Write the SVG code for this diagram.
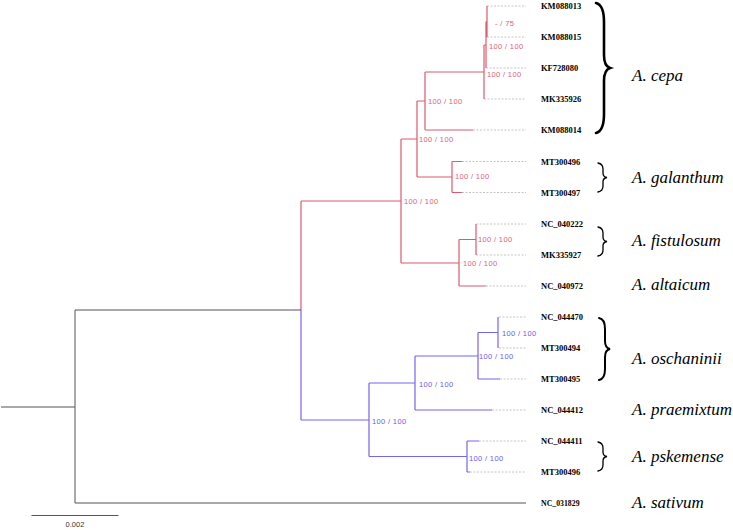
<svg xmlns="http://www.w3.org/2000/svg" width="733" height="530" viewBox="0 0 733 530">
<style>
.r{stroke:#dc5a6e;stroke-width:1.2;fill:none}
.b{stroke:#7566ee;stroke-width:1.2;fill:none}
.k{stroke:#555;stroke-width:1;fill:none}
.d{stroke:#b5b5b5;stroke-width:0.8;stroke-dasharray:2 1.5;fill:none}
.tip{font-family:"Liberation Serif",serif;font-weight:bold;font-size:8.5px;fill:#000}
.sp{font-family:"Liberation Serif",serif;font-style:italic;font-size:17px;fill:#000}
.sr{font-family:"Liberation Sans",Arial,sans-serif;font-size:7.5px;letter-spacing:0.35px;fill:#e0607a}
.sb{font-family:"Liberation Sans",Arial,sans-serif;font-size:7.5px;letter-spacing:0.35px;fill:#6a5ce8}
.br{stroke:#000;fill:none;stroke-linecap:round}
</style>
<rect width="733" height="530" fill="#fff"/>
<g id="connectors">
<!-- dashed tip extensions -->
<path class="d" d="M487,6H526M487,37H526M486,68H526M484,99H526M473,130H526M462,161.5H526M462,192.5H526M476,224H526M476,255H526M486,286H526M499,317H526M499,348H526M500,379H526M492,410H526M479,441H526M470,472H526"/>
<!-- red clade -->
<path class="r" d="M487,6V37M486,21.5H487M486,21.5V68M484,45H486M484,45V99M425,72H484M425,72V130M425,130H473M417,101H425M417,101V177M452,177H417M452,161.5V192.5M452,161.5H462M452,192.5H462M401,139H417M401,139V263M401,263H459M459,239.5V286M459,286H486M459,239.5H476M476,224V255M301,201H401M301,201V310"/>
<!-- blue clade -->
<path class="b" d="M301,310V420M301,420H369M369,383V456.5M369,383H415M415,356V410M415,410H492M415,356H478M478,332.5V379M478,379H500M478,332.5H498M498,317V348M369,456.5H467M467,441V472M467,441H479M467,472H470"/>
<!-- outgroup / root -->
<path class="k" d="M1,407H75M75,310V503M75,310H301M75,503H526"/>
</g>
<g id="supports">
<text class="sr" x="495" y="25.5">- / 75</text>
<text class="sr" x="489" y="48.5">100 / 100</text>
<text class="sr" x="487" y="76.5">100 / 100</text>
<text class="sr" x="428" y="103.5">100 / 100</text>
<text class="sr" x="419" y="141.5">100 / 100</text>
<text class="sr" x="455" y="179">100 / 100</text>
<text class="sr" x="404" y="204">100 / 100</text>
<text class="sr" x="478" y="241.5">100 / 100</text>
<text class="sr" x="463" y="265.5">100 / 100</text>
<text class="sb" x="502" y="335.5">100 / 100</text>
<text class="sb" x="479" y="359">100 / 100</text>
<text class="sb" x="419" y="386.5">100 / 100</text>
<text class="sb" x="372" y="423.5">100 / 100</text>
<text class="sb" x="469" y="460.5">100 / 100</text>
</g>
<g id="tip-KM088013"><text class="tip" x="541" y="9">KM088013</text></g>
<g id="tip-KM088015"><text class="tip" x="541" y="40">KM088015</text></g>
<g id="tip-KF728080"><text class="tip" x="541" y="71">KF728080</text></g>
<g id="tip-MK335926"><text class="tip" x="541" y="102">MK335926</text></g>
<g id="tip-KM088014"><text class="tip" x="541" y="133">KM088014</text></g>
<g id="tip-MT300496a"><text class="tip" x="541" y="164.5">MT300496</text></g>
<g id="tip-MT300497"><text class="tip" x="541" y="195.5">MT300497</text></g>
<g id="tip-NC_040222"><text class="tip" x="541" y="227">NC_040222</text></g>
<g id="tip-MK335927"><text class="tip" x="541" y="258">MK335927</text></g>
<g id="tip-NC_040972"><text class="tip" x="541" y="289">NC_040972</text></g>
<g id="tip-NC_044470"><text class="tip" x="541" y="320">NC_044470</text></g>
<g id="tip-MT300494"><text class="tip" x="541" y="351">MT300494</text></g>
<g id="tip-MT300495"><text class="tip" x="541" y="382">MT300495</text></g>
<g id="tip-NC_044412"><text class="tip" x="541" y="413">NC_044412</text></g>
<g id="tip-NC_044411"><text class="tip" x="541" y="444">NC_044411</text></g>
<g id="tip-MT300496b"><text class="tip" x="541" y="475">MT300496</text></g>
<g id="tip-NC_031829"><text class="tip" x="541" y="506" style="font-size:7.8px">NC_031829</text></g>
<g id="sp-cepa">
<path class="br" stroke-width="2.6" d="M596,3Q604,5 604,22V55Q604,66 610,68Q604,70 604,81V114Q604,131 596,133"/>
<text class="sp" x="632" y="81">A. cepa</text>
</g>
<g id="sp-galanthum">
<path class="br" stroke-width="1.3" d="M598,163Q603,164 603,169V173Q603,177 607,177.5Q603,178 603,182V186Q603,191 598,192"/>
<text class="sp" x="632" y="183">A. galanthum</text>
</g>
<g id="sp-fistulosum">
<path class="br" stroke-width="1.3" d="M598,227Q603,228 603,233V237Q603,241 607,241.5Q603,242 603,246V250Q603,255 598,256"/>
<text class="sp" x="632" y="246">A. fistulosum</text>
</g>
<g id="sp-altaicum"><text class="sp" x="632" y="290">A. altaicum</text></g>
<g id="sp-oschaninii">
<path class="br" stroke-width="2" d="M599,318Q605,319 605,329V341Q605,348 610,349Q605,350 605,357V369Q605,379 599,380"/>
<text class="sp" x="632" y="364">A. oschaninii</text>
</g>
<g id="sp-praemixtum"><text class="sp" x="632" y="415">A. praemixtum</text></g>
<g id="sp-pskemense">
<path class="br" stroke-width="1.3" d="M598,442Q603,443 603,448V452Q603,456 607,456.5Q603,457 603,461V465Q603,470 598,471"/>
<text class="sp" x="632" y="462">A. pskemense</text>
</g>
<g id="sp-sativum"><text class="sp" x="632" y="508">A. sativum</text></g>
<g id="scalebar">
<path class="k" d="M31.5,515.5H118.5"/>
<text x="75" y="527" text-anchor="middle" style="font-family:'Liberation Sans',Arial,sans-serif;font-size:7.5px;fill:#333">0.002</text>
</g>
</svg>
